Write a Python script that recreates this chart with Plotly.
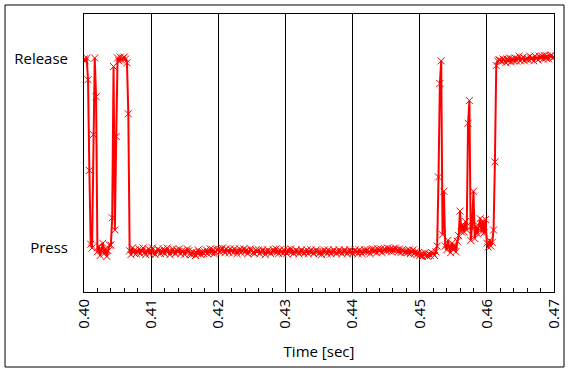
import plotly.graph_objects as go

# Sampling clock of the recorded signal
start_s = 0.400
sample_period_s = 0.0002

# State signal (0 = Press, 1 = Release), 10 samples per row (2 ms)
state = [
    1.00, 0.99, 1.005, 0.89, 0.41, 0.02, 0.00, 0.60, 1.005, 0.80,
    -0.02, 0.01, -0.04, -0.01, 0.025, -0.03, -0.005, -0.045, -0.015, 0.015,
    0.015, 0.16, 0.96, 0.095, 0.59, 1.005, 0.99, 1.01, 0.995, 1.005,
    1.01, 1.00, 0.98, 0.71, -0.015, -0.035, 0.00, -0.025, -0.01, -0.03,
    -0.02, -0.005, -0.03, -0.015, 0.00, -0.025, -0.035, -0.015, -0.005, -0.03,
    -0.015, 0.00, -0.025, -0.035, -0.02, -0.005, -0.015, -0.03, -0.02, -0.005,
    -0.03, -0.015, 0.00, -0.02, -0.035, -0.02, -0.005, -0.02, -0.03, -0.01,
    -0.02, -0.005, -0.03, -0.015, -0.02, -0.035, -0.02, -0.005, -0.015, -0.03,
    -0.035, -0.02, -0.03, -0.04, -0.025, -0.01, -0.025, -0.035, -0.02, -0.03,
    -0.02, -0.01, -0.03, -0.02, -0.005, -0.025, -0.01, -0.03, -0.02, -0.01,
    -0.005, -0.02, -0.01, 0.00, -0.015, -0.025, -0.005, -0.015, -0.025, -0.005,
    -0.015, -0.025, -0.005, -0.015, -0.03, -0.015, -0.005, -0.025, -0.015, -0.005,
    -0.02, -0.01, -0.03, -0.02, -0.005, -0.015, -0.025, -0.03, -0.01, -0.02,
    -0.01, -0.03, -0.02, -0.01, -0.02, -0.035, -0.02, -0.01, -0.02, -0.03,
    -0.02, -0.01, -0.02, -0.005, -0.02, -0.03, -0.01, -0.02, -0.03, -0.01,
    -0.02, -0.03, -0.01, -0.02, -0.005, -0.02, -0.03, -0.02, -0.01, -0.02,
    -0.03, -0.02, -0.01, -0.02, -0.03, -0.02, -0.01, -0.03, -0.02, -0.01,
    -0.02, -0.03, -0.02, -0.01, -0.02, -0.03, -0.02, -0.035, -0.02, -0.01,
    -0.02, -0.03, -0.01, -0.02, -0.03, -0.02, -0.01, -0.02, -0.03, -0.02,
    -0.01, -0.02, -0.03, -0.02, -0.01, -0.02, -0.03, -0.02, -0.01, -0.02,
    -0.03, -0.02, -0.01, -0.02, -0.03, -0.01, -0.02, -0.03, -0.02, -0.01,
    -0.02, -0.01, -0.02, -0.03, -0.01, -0.005, -0.02, -0.01, -0.025, -0.005,
    -0.015, -0.005, -0.025, -0.01, -0.005, -0.015, 0.00, -0.015, -0.005, -0.02,
    -0.005, -0.015, 0.00, -0.01, -0.02, -0.005, -0.025, -0.01, -0.015, -0.025,
    -0.015, -0.025, -0.01, -0.03, -0.02, -0.01, -0.03, -0.02, -0.035, -0.025,
    -0.04, -0.03, -0.045, -0.035, -0.025, -0.04, -0.045, -0.03, -0.04, -0.025,
    -0.03, -0.04, -0.02, 0.01, 0.375, 0.87, 0.99, 0.07, 0.30, 0.01,
    -0.01, 0.04, 0.005, -0.025, 0.025, -0.01, 0.015, -0.02, 0.035, 0.065,
    0.195, 0.085, 0.125, 0.085, 0.14, 0.095, 0.66, 0.78, 0.04, 0.115,
    0.30, 0.05, 0.115, 0.075, 0.115, 0.155, 0.085, 0.145, 0.08, 0.15,
    0.025, 0.005, 0.04, 0.01, 0.03, 0.095, 0.455, 0.965, 0.99, 0.995,
    0.995, 0.985, 1.00, 0.995, 0.98, 1.00, 0.99, 1.005, 0.985, 1.00,
    0.99, 1.005, 0.99, 1.00, 1.015, 0.99, 1.00, 1.01, 0.99, 1.00,
    1.005, 0.995, 1.015, 1.00, 1.005, 0.99, 1.015, 1.005, 0.995, 1.015,
    1.005, 1.015, 1.00, 1.02, 1.005, 1.015, 1.00, 1.015, 1.02, 1.005,
    1.01,
]
time_s = [round(start_s + i * sample_period_s, 5) for i in range(len(state))]

x_ticks = [0.40, 0.41, 0.42, 0.43, 0.44, 0.45, 0.46, 0.47]
x_tick_labels = ["0.40", "0.41", "0.42", "0.43", "0.44", "0.45", "0.46", "0.47"]
y_ticks = [0, 1]
y_tick_labels = ["Press", "Release"]

FONT = "Open Sans, DejaVu Sans, sans-serif"

fig = go.Figure()
fig.add_trace(go.Scatter(
    x=time_s, y=state, mode="lines+markers",
    line=dict(color="#ff0000", width=2),
    marker=dict(symbol="x-thin", size=7, color="#ff0000",
                line=dict(color="#ff0000", width=1)),
    showlegend=False,
))

fig.update_layout(
    width=571, height=373,
    margin=dict(l=84, r=17, t=14, b=81),
    paper_bgcolor="white", plot_bgcolor="white",
    font=dict(family=FONT, color="black", size=15),
    xaxis=dict(
        range=[0.40, 0.47], tickvals=x_ticks, ticktext=x_tick_labels,
        tickangle=-90, tickfont=dict(size=15), automargin=False,
        showgrid=True, gridcolor="black", gridwidth=1,
        showline=True, linecolor="black", linewidth=1, mirror=True,
        ticks="inside", ticklen=4, tickcolor="black",
        minor=dict(dtick=0.002, ticks="inside", ticklen=4, tickcolor="black", showgrid=False),
        zeroline=False,
        title=dict(text="Time [sec]", font=dict(size=15), standoff=18),
    ),
    yaxis=dict(
        range=[-0.233, 1.238], tickvals=y_ticks, ticktext=y_tick_labels,
        tickfont=dict(size=15), showgrid=False, zeroline=False, automargin=False,
        showline=True, linecolor="black", linewidth=1, mirror=True,
        ticks="", ticklabelstandoff=12,
    ),
    shapes=[dict(type="rect", xref="paper", yref="paper",
                 x0=-0.168, x1=1.0213, y0=-0.2698, y1=1.0324,
                 line=dict(color="black", width=1), fillcolor="rgba(0,0,0,0)",
                 layer="above")],
)

fig.write_html(
    "out.html",
    config={"displayModeBar": False},
    post_script="document.body.style.margin='0';document.body.style.overflow='hidden';",
)
